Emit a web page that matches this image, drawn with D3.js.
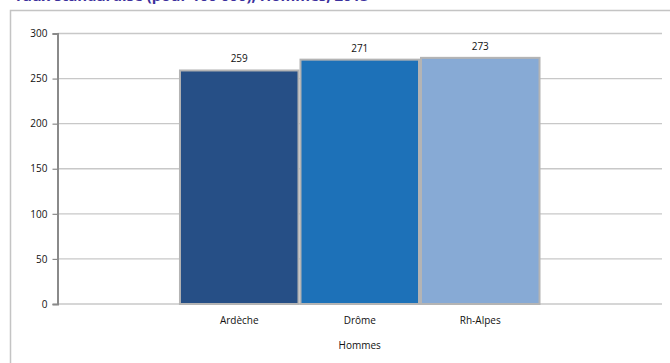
<!DOCTYPE html>
<html><head><meta charset="utf-8">
<script src="https://cdn.jsdelivr.net/npm/d3@7"></script>
<style>body{margin:0;background:#fff}svg{display:block}</style>
</head><body>
<svg id="c" width="670" height="363"></svg>
<script>
const groups = ["Hommes"];
const series = ["Ardèche", "Drôme", "Rh-Alpes"];
const values = [259, 271, 273];
const colors = ["#264f86", "#1d71b8", "#87aad5"];
const yTicks = [0, 50, 100, 150, 200, 250, 300];
const title = "Taux standardisé (pour 100 000), Hommes, 2013";

const svg = d3.select("#c");
const font = "'Open Sans', sans-serif";
const m = {left: 57.5, right: 662, top: 33.5, bottom: 304};

// title (cut off at top, as in the reference)
svg.append("text").attr("x", 14).attr("y", 1)
  .attr("font-family", font).attr("font-size", 15).attr("font-weight", "bold")
  .attr("fill", "#3c309c").text(title);

// frame
svg.append("rect").attr("x", 10.5).attr("y", 10.5).attr("width", 700).attr("height", 400)
  .attr("fill", "none").attr("stroke", "#c4c4c4").attr("stroke-width", 1.5);

const y = d3.scaleLinear().domain([0, 300]).range([m.bottom, m.top]);
const x0 = d3.scaleBand().domain(groups).range([m.left, m.right]).paddingInner(0).paddingOuter(0.336);
const x1 = d3.scaleBand().domain(series).range([0, x0.bandwidth()]).padding(0);

// gridlines
svg.append("g").selectAll("line").data(yTicks).join("line")
  .attr("x1", m.left).attr("x2", m.right)
  .attr("y1", d => y(d)).attr("y2", d => y(d))
  .attr("stroke", "#c8c8c8").attr("stroke-width", 1.4);

// y axis
const yAxis = svg.append("g").attr("transform", `translate(${m.left},0)`)
  .call(d3.axisLeft(y).tickValues(yTicks).tickSize(5).tickPadding(5));
yAxis.select(".domain").attr("stroke", "#8a8a8a").attr("stroke-width", 2);
yAxis.selectAll(".tick line").attr("stroke", "#8a8a8a").attr("stroke-width", 1.2);
yAxis.selectAll("text").attr("font-family", font).attr("font-size", 10).attr("fill", "#111");

// bars
const gx = x0("Hommes");
svg.append("g").selectAll("rect").data(series).join("rect")
  .attr("x", d => gx + x1(d) + 1)
  .attr("y", (d, i) => y(values[i]))
  .attr("width", x1.bandwidth() - 2)
  .attr("height", (d, i) => y(0) - y(values[i]))
  .attr("fill", (d, i) => colors[i])
  .attr("stroke", "#b4b4b4").attr("stroke-width", 2);

// value labels
svg.append("g").selectAll("text").data(series).join("text")
  .attr("x", d => gx + x1(d) + x1.bandwidth() / 2)
  .attr("y", (d, i) => y(values[i]) - 8)
  .attr("text-anchor", "middle").attr("font-family", font).attr("font-size", 10).attr("fill", "#111")
  .text((d, i) => values[i]);

// series labels under bars
svg.append("g").selectAll("text").data(series).join("text")
  .attr("x", d => gx + x1(d) + x1.bandwidth() / 2)
  .attr("y", 324)
  .attr("text-anchor", "middle").attr("font-family", font).attr("font-size", 10).attr("fill", "#111")
  .text(d => d);

// group label
svg.append("text").attr("x", gx + x0.bandwidth() / 2).attr("y", 349)
  .attr("text-anchor", "middle").attr("font-family", font).attr("font-size", 10).attr("fill", "#111")
  .text(groups[0]);
</script>
</body></html>
